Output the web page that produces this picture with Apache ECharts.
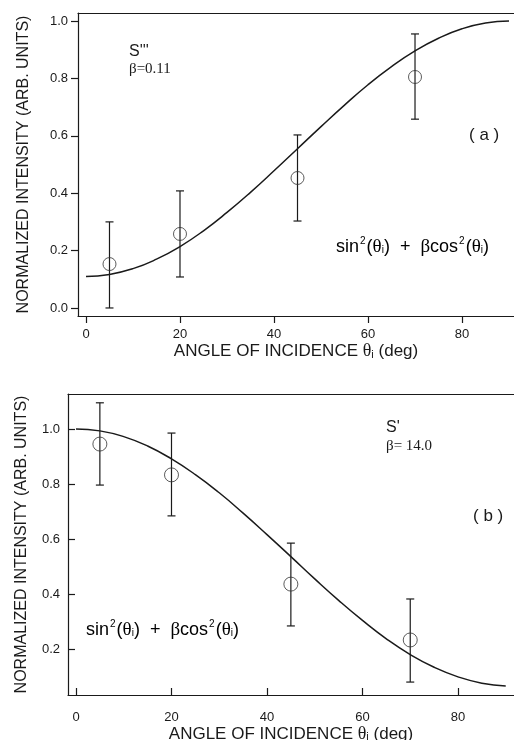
<!DOCTYPE html>
<html>
<head>
<meta charset="utf-8">
<script src="https://cdn.jsdelivr.net/npm/echarts@6/dist/echarts.min.js"></script>
<style>
  html, body { margin: 0; padding: 0; background: #fff; }
  #chart { width: 514px; height: 740px; }
</style>
</head>
<body>
<div id="chart"></div>
<script>
// measured points, panel (a) S''' and panel (b) S'
const anglesA = [5, 20, 45, 70];
const intensityA = [0.153, 0.258, 0.453, 0.805];
const errLowA = [0.0, 0.108, 0.303, 0.658];
const errHighA = [0.30, 0.408, 0.603, 0.955];

const anglesB = [5, 20, 45, 70];
const intensityB = [0.945, 0.833, 0.436, 0.233];
const errLowB = [0.796, 0.684, 0.284, 0.08];
const errHighB = [1.095, 0.985, 0.585, 0.382];

// fit curves every 5 deg
const fitAngles = [0, 5, 10, 15, 20, 25, 30, 35, 40, 45, 50, 55, 60, 65, 70, 75, 80, 85, 90];
const fitA = [0.110, 0.117, 0.137, 0.170, 0.214, 0.269, 0.333, 0.403, 0.478, 0.555,
              0.632, 0.707, 0.778, 0.841, 0.896, 0.940, 0.973, 0.993, 1.000];
const fitB = [1.000, 0.993, 0.972, 0.938, 0.891, 0.834, 0.768, 0.694, 0.616, 0.536,
              0.455, 0.377, 0.304, 0.237, 0.180, 0.134, 0.099, 0.076, 0.066];

const xTicks = [0, 20, 40, 60, 80];
const yTicksA = [0, 0.2, 0.4, 0.6, 0.8, 1.0];
const yTicksB = [0.2, 0.4, 0.6, 0.8, 1.0];

const ink = '#1a1a1a';
const sans = 'Liberation Sans, Arial, sans-serif';
const serif = 'Liberation Serif, Times New Roman, serif';

function zip(xs, ys) {
  return xs.map((x, i) => [x, ys[i]]);
}
function bars(xs, lo, hi) {
  return xs.map((x, i) => [x, lo[i], hi[i]]);
}

function errorBar(params, api) {
  const lo = api.coord([api.value(0), api.value(1)]);
  const hi = api.coord([api.value(0), api.value(2)]);
  const w = 4;
  const st = { stroke: ink, lineWidth: 1.2 };
  return {
    type: 'group',
    children: [
      { type: 'line', shape: { x1: lo[0], y1: lo[1], x2: hi[0], y2: hi[1] }, style: st },
      { type: 'line', shape: { x1: lo[0] - w, y1: lo[1], x2: lo[0] + w, y2: lo[1] }, style: st },
      { type: 'line', shape: { x1: hi[0] - w, y1: hi[1], x2: hi[0] + w, y2: hi[1] }, style: st }
    ]
  };
}

const formulaRich = {
  t: { fontFamily: sans, fontSize: 18, color: ink, lineHeight: 24 },
  g: { fontFamily: serif, fontSize: 19, color: ink, lineHeight: 24 },
  sup: { fontFamily: sans, fontSize: 10, color: ink, verticalAlign: 'top', lineHeight: 24, padding: [1, 1, 0, 1] },
  sub: { fontFamily: sans, fontSize: 10, color: ink, verticalAlign: 'bottom', lineHeight: 24, padding: [0, 0, 4, 0] }
};
const formulaText = '{t|sin}{sup|2}{t|(}{g|θ}{sub|i}{t|)  +  }{g|β}{t|cos}{sup|2}{t|(}{g|θ}{sub|i}{t|)}';

function xAxisFor(idx, min, max, inside, margin, gap) {
  return {
    type: 'value', gridIndex: idx, min: min, max: max, position: 'bottom',
    axisLine: { show: true, onZero: false, lineStyle: { color: ink, width: 1.2 } },
    splitLine: { show: false },
    axisTick: { show: true, inside: inside, length: 7, customValues: xTicks, lineStyle: { color: ink, width: 1.2 } },
    axisLabel: { customValues: xTicks, color: ink, fontFamily: sans, fontSize: 13, margin: margin },
    name: '{t|ANGLE OF INCIDENCE }{g|θ}{s|i}{t| (deg)}',
    nameLocation: 'middle', nameGap: gap,
    nameTextStyle: {
      rich: {
        t: { fontFamily: sans, fontSize: 17, color: ink },
        g: { fontFamily: serif, fontSize: 18, color: ink },
        s: { fontFamily: sans, fontSize: 11, color: ink, verticalAlign: 'bottom' }
      }
    }
  };
}

// plain top frame line of each panel
function topFrame(idx, min, max) {
  return {
    type: 'value', gridIndex: idx, min: min, max: max, position: 'top',
    axisLine: { show: true, onZero: false, lineStyle: { color: ink, width: 1.2 } },
    axisTick: { show: false }, axisLabel: { show: false }, splitLine: { show: false }
  };
}

function yAxisFor(idx, min, max, ticks, inside, gap, margin) {
  return {
    type: 'value', gridIndex: idx, min: min, max: max,
    axisLine: { show: true, onZero: false, lineStyle: { color: ink, width: 1.2 } },
    splitLine: { show: false },
    axisTick: { show: true, inside: inside, length: 7, customValues: ticks, lineStyle: { color: ink, width: 1.2 } },
    axisLabel: { customValues: ticks, color: ink, fontFamily: sans, fontSize: 13, margin: margin,
                 formatter: v => v.toFixed(1) },
    name: 'NORMALIZED INTENSITY (ARB. UNITS)',
    nameLocation: 'middle', nameGap: gap,
    nameTextStyle: { fontFamily: sans, fontSize: 16, color: ink }
  };
}

const chart = echarts.init(document.getElementById('chart'), null, { renderer: 'canvas' });

const option = {
  animation: false,
  backgroundColor: '#fff',
  grid: [
    { left: 78, top: 13, right: 0, bottom: 424, outerBoundsMode: 'none', containLabel: false },
    { left: 68, top: 394, right: 0, bottom: 45, outerBoundsMode: 'none', containLabel: false }
  ],
  xAxis: [
    xAxisFor(0, -1.7, 91.06, false, 12, 26),
    xAxisFor(1, -1.675, 91.73, true, 16, 28),
    topFrame(0, -1.7, 91.06),
    topFrame(1, -1.675, 91.73)
  ],
  yAxis: [
    yAxisFor(0, -0.028, 1.028, yTicksA, false, 46, 10),
    yAxisFor(1, 0.033, 1.127, yTicksB, true, 38, 8)
  ],
  series: [
    {
      type: 'line', xAxisIndex: 0, yAxisIndex: 0, data: zip(fitAngles, fitA),
      smooth: true, showSymbol: false, lineStyle: { color: ink, width: 1.5 }
    },
    {
      type: 'custom', xAxisIndex: 0, yAxisIndex: 0, data: bars(anglesA, errLowA, errHighA),
      renderItem: errorBar, encode: { x: 0, y: [1, 2] }
    },
    {
      type: 'scatter', xAxisIndex: 0, yAxisIndex: 0, data: zip(anglesA, intensityA),
      symbol: 'circle', symbolSize: 13, itemStyle: { color: 'transparent', borderColor: '#333', borderWidth: 1 }
    },
    {
      type: 'line', xAxisIndex: 1, yAxisIndex: 1, data: zip(fitAngles, fitB),
      smooth: true, showSymbol: false, lineStyle: { color: ink, width: 1.5 }
    },
    {
      type: 'custom', xAxisIndex: 1, yAxisIndex: 1, data: bars(anglesB, errLowB, errHighB),
      renderItem: errorBar, encode: { x: 0, y: [1, 2] }
    },
    {
      type: 'scatter', xAxisIndex: 1, yAxisIndex: 1, data: zip(anglesB, intensityB),
      symbol: 'circle', symbolSize: 14, itemStyle: { color: 'transparent', borderColor: '#333', borderWidth: 1 }
    }
  ],
  graphic: [
    { type: 'text', left: 129, top: 44, style: { text: "S'''", font: '16px ' + sans, fill: ink } },
    { type: 'text', left: 129, top: 62, style: { text: 'β=0.11', font: '15px ' + serif, fill: ink } },
    { type: 'text', left: 469, top: 127, style: { text: '( a )', font: '17px ' + sans, fill: ink } },
    { type: 'text', left: 336, top: 235, style: { text: formulaText, rich: formulaRich } },
    { type: 'text', left: 386, top: 420, style: { text: "S'", font: '16px ' + sans, fill: ink } },
    { type: 'text', left: 386, top: 439, style: { text: 'β= 14.0', font: '15px ' + serif, fill: ink } },
    { type: 'text', left: 473, top: 508, style: { text: '( b )', font: '17px ' + sans, fill: ink } },
    { type: 'text', left: 86, top: 618, style: { text: formulaText, rich: formulaRich } }
  ]
};

chart.setOption(option);
</script>
</body>
</html>
